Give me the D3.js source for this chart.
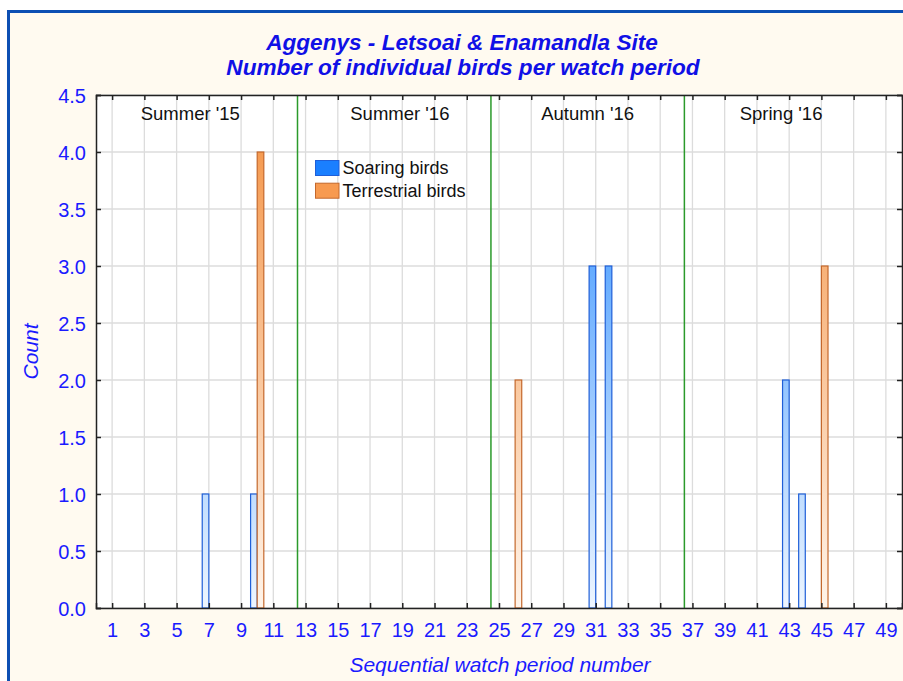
<!DOCTYPE html>
<html>
<head>
<meta charset="utf-8">
<script src="https://cdnjs.cloudflare.com/ajax/libs/d3/7.8.5/d3.min.js"></script>
<style>
  body { margin: 0; background: #fff; }
  text { font-family: "Liberation Sans", Arial, sans-serif; }
</style>
</head>
<body>
<script>
"use strict";

let width = 903;
let height = 681;

// watch periods with a non-zero count
let periods = [7, 10, 26, 31, 32, 43, 44, 45];
let soaring = [1, 1, 0, 3, 3, 2, 1, 0];
let terrestrial = [0, 4, 2, 0, 0, 0, 0, 3];

let seasons = ["Summer '15", "Summer '16", "Autumn '16", "Spring '16"];
let seasonPos = [5.85, 18.85, 30.5, 42.5];
let seasonBreaks = [12.5, 24.5, 36.5];

let xTicks = d3.range(1, 50, 2);
let yTicks = d3.range(0, 4.51, 0.5);

let margin = { left: 96, right: 1, top: 95, bottom: 73 };

let svg = d3.select("body").append("svg").attr("width", width).attr("height", height);

// panel background and frame
svg.append("rect").attr("x", 0).attr("y", 0).attr("width", width).attr("height", height).attr("fill", "#fff");
svg.append("rect")
  .attr("x", 8.5).attr("y", 11.5)
  .attr("width", width + 10).attr("height", height + 10)
  .attr("fill", "#fffaf0")
  .attr("stroke", "#0d4fb3")
  .attr("stroke-width", 3);

let x = d3.scaleLinear().domain([0, 50]).range([margin.left, width - margin.right]);
let y = d3.scaleLinear().domain([0, 4.5]).range([height - margin.bottom, margin.top]);

let defs = svg.append("defs");
function grad(id, top, bottom) {
  let g = defs.append("linearGradient").attr("id", id)
    .attr("gradientUnits", "userSpaceOnUse")
    .attr("x1", 0).attr("x2", 0).attr("y1", y(4.5)).attr("y2", y(0));
  g.append("stop").attr("offset", "0%").attr("stop-color", top);
  g.append("stop").attr("offset", "100%").attr("stop-color", bottom);
}
grad("gBlue", "#1f86ff", "#eef6ff");
grad("gOrange", "#f4903f", "#fff4ea");

// plot area
svg.append("rect")
  .attr("x", x(0)).attr("y", y(4.5))
  .attr("width", x(50) - x(0)).attr("height", y(0) - y(4.5))
  .attr("fill", "#fff");

// grid
svg.append("g").selectAll("line").data(xTicks).enter().append("line")
  .attr("x1", d => x(d)).attr("x2", d => x(d))
  .attr("y1", y(0)).attr("y2", y(4.5))
  .attr("stroke", "#dcdcdc").attr("stroke-width", 1.3);
svg.append("g").selectAll("line").data(yTicks).enter().append("line")
  .attr("x1", x(0)).attr("x2", x(50))
  .attr("y1", d => y(d)).attr("y2", d => y(d))
  .attr("stroke", "#dcdcdc").attr("stroke-width", 1.3);

// season separators
svg.append("g").selectAll("line").data(seasonBreaks).enter().append("line")
  .attr("x1", d => x(d)).attr("x2", d => x(d))
  .attr("y1", y(0)).attr("y2", y(4.5))
  .attr("stroke", "#2b9a2b").attr("stroke-width", 1.5);

// bars
let bw = x(1) - x(0);
let half = bw * 0.41;
let bars = svg.append("g");
periods.forEach(function (p, i) {
  if (soaring[i] > 0) {
    bars.append("rect")
      .attr("x", x(p) - half).attr("y", y(soaring[i]))
      .attr("width", half).attr("height", y(0) - y(soaring[i]))
      .attr("fill", "url(#gBlue)").attr("stroke", "#1f5fd8").attr("stroke-width", 1.2);
  }
  if (terrestrial[i] > 0) {
    bars.append("rect")
      .attr("x", x(p)).attr("y", y(terrestrial[i]))
      .attr("width", half).attr("height", y(0) - y(terrestrial[i]))
      .attr("fill", "url(#gOrange)").attr("stroke", "#c4682c").attr("stroke-width", 1.2);
  }
});

// axes
let blue = "#1a1aff";
let xAxis = svg.append("g").attr("transform", "translate(0," + y(0) + ")")
  .call(d3.axisBottom(x).tickValues(xTicks).tickSize(-5).tickPadding(15).tickFormat(d3.format("d")));
let xTop = svg.append("g").attr("transform", "translate(0," + y(4.5) + ")")
  .call(d3.axisTop(x).tickValues(xTicks).tickSize(-5).tickFormat(""));
let yAxis = svg.append("g").attr("transform", "translate(" + x(0) + ",0)")
  .call(d3.axisLeft(y).tickValues(yTicks).tickSize(-5).tickPadding(10).tickFormat(d3.format(".1f")));
let yRight = svg.append("g").attr("transform", "translate(" + x(50) + ",0)")
  .call(d3.axisRight(y).tickValues(yTicks).tickSize(-5).tickFormat(""));
[xAxis, xTop, yAxis, yRight].forEach(function (a) {
  a.select(".domain").attr("stroke", "#222").attr("stroke-width", 1.5);
  a.selectAll(".tick line").attr("stroke", "#222").attr("stroke-width", 1.5);
  a.selectAll(".tick text").attr("fill", blue).style("font-size", "20px")
    .style("font-family", "'Liberation Sans', Arial, sans-serif");
});
yAxis.selectAll(".tick text").attr("dy", "0.36em");

// season labels
svg.append("g").selectAll("text").data(seasons).enter().append("text")
  .attr("x", (d, i) => x(seasonPos[i])).attr("y", 119.5)
  .attr("text-anchor", "middle")
  .style("font-size", "18.5px").attr("fill", "#111")
  .text(d => d);

// legend
let legend = [{ name: "Soaring birds", fill: "#1a7fff", stroke: "#1f5fd8" },
              { name: "Terrestrial birds", fill: "#f79a50", stroke: "#c4682c" }];
let lg = svg.append("g").attr("transform", "translate(315.5,160.5)");
legend.forEach(function (d, i) {
  lg.append("rect").attr("x", 0).attr("y", i * 22.7).attr("width", 23.5).attr("height", 15)
    .attr("fill", d.fill).attr("stroke", d.stroke).attr("stroke-width", 1);
  lg.append("text").attr("x", 27).attr("y", i * 22.7 + 13.5)
    .style("font-size", "18px").attr("fill", "#111").text(d.name);
});

// titles
let title = svg.append("text").attr("text-anchor", "middle")
  .attr("fill", "#1010e6").style("font-size", "22.6px")
  .style("font-weight", "bold").style("font-style", "italic");
title.append("tspan").attr("x", 462).attr("y", 50).text("Aggenys - Letsoai & Enamandla Site");
title.append("tspan").attr("x", 463).attr("y", 75).text("Number of individual birds per watch period");

svg.append("text")
  .attr("x", 500).attr("y", 672).attr("text-anchor", "middle")
  .attr("fill", blue).style("font-size", "21px").style("font-style", "italic")
  .text("Sequential watch period number");

svg.append("text")
  .attr("transform", "translate(38," + y(2.25) + ") rotate(-90)")
  .attr("text-anchor", "middle")
  .attr("fill", blue).style("font-size", "21px").style("font-style", "italic")
  .text("Count");
</script>
</body>
</html>
